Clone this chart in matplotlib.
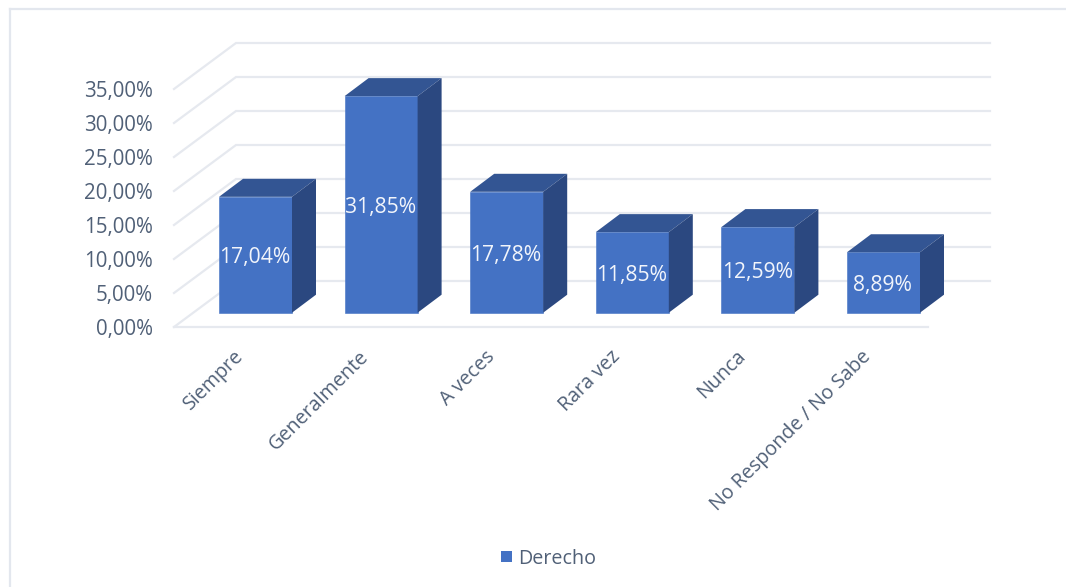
import matplotlib

matplotlib.use("Agg")
import matplotlib.pyplot as plt
from matplotlib.patches import Polygon, Rectangle

categories = ["Siempre", "Generalmente", "A veces", "Rara vez", "Nunca", "No Responde / No Sabe"]
values = [17.04, 31.85, 17.78, 11.85, 12.59, 8.89]
value_labels = ["17,04%", "31,85%", "17,78%", "11,85%", "12,59%", "8,89%"]
y_ticks = [0, 5, 10, 15, 20, 25, 30, 35]
y_tick_labels = ["0,00%", "5,00%", "10,00%", "15,00%", "20,00%", "25,00%", "30,00%", "35,00%"]
series_name = "Derecho"

W, H = 1066, 587
PX_PER_UNIT = 6.8
PX_PER_CAT = 125.6
X0_PX = 255.5
Y0_PX = 327

# 3d look: everything is offset in data units
BAR_W = 73 / PX_PER_CAT
BAR_DX, BAR_DY = 24 / PX_PER_CAT, 18 / PX_PER_UNIT
WALL_DX, WALL_DY = 62 / PX_PER_CAT, 46 / PX_PER_UNIT
FLOOR_Y = 14.3 / PX_PER_UNIT
FLOOR_LEFT = (174 - X0_PX) / PX_PER_CAT
FLOOR_RIGHT = (928 - X0_PX) / PX_PER_CAT

FRONT = "#4472c4"
TOP = "#335593"
SIDE = "#2b4880"
GRID = "#e6e9ef"
TEXT = "#506077"

plt.rcParams["font.family"] = ["Open Sans", "DejaVu Sans"]

fig = plt.figure(figsize=(W / 100, H / 100), dpi=100)
ax = fig.add_axes([0, 0, 1, 1])
ax.set_xlim(-X0_PX / PX_PER_CAT, (W - X0_PX) / PX_PER_CAT)
ax.set_ylim((Y0_PX - H) / PX_PER_UNIT, Y0_PX / PX_PER_UNIT)
for spine in ax.spines.values():
    spine.set_visible(False)

# outer frame of the pasted chart, top edge runs off the image
fig.add_artist(plt.Line2D([9.5 / W, 9.5 / W], [0, 1 - 8.5 / H], color="#e3e7ee", lw=1.6))
fig.add_artist(plt.Line2D([9.5 / W, 1], [1 - 8.5 / H, 1 - 8.5 / H], color="#e3e7ee", lw=1.6))

for tick in y_ticks:
    ax.plot(
        [FLOOR_LEFT, FLOOR_LEFT + WALL_DX, FLOOR_RIGHT + WALL_DX],
        [tick, tick + WALL_DY, tick + WALL_DY],
        color=GRID, lw=1.6, zorder=1, solid_joinstyle="miter",
    )
ax.plot([FLOOR_LEFT, FLOOR_RIGHT], [0, 0], color=GRID, lw=1.6, zorder=1)

x_pos = list(range(len(categories)))
bars = ax.bar(x_pos, values, BAR_W, bottom=FLOOR_Y, color=FRONT, edgecolor=FRONT, linewidth=0.4, zorder=3)
for bar, label in zip(bars, value_labels):
    left, right = bar.get_x(), bar.get_x() + bar.get_width()
    low, high = bar.get_y(), bar.get_y() + bar.get_height()
    ax.add_patch(Polygon(
        [(left, high), (right, high), (right + BAR_DX, high + BAR_DY), (left + BAR_DX, high + BAR_DY)],
        facecolor=TOP, zorder=3,
    ))
    ax.add_patch(Polygon(
        [(right, low), (right + BAR_DX, low + BAR_DY), (right + BAR_DX, high + BAR_DY), (right, high)],
        facecolor=SIDE, zorder=3,
    ))
    ax.annotate(label, ((left + right) / 2, (low + high) / 2), xytext=(-0.5, -2.2), textcoords="offset points",
                color="#f2f5fb", fontsize=15.2, ha="center", va="center", zorder=4)

ax.set_yticks(y_ticks)
ax.set_yticklabels(y_tick_labels)
ax.yaxis.set_tick_params(length=0, direction="in", pad=-110, labelsize=14.8, labelcolor=TEXT)
for label in ax.get_yticklabels():
    label.set_ha("right")

ax.set_xticks([])
for x, name in zip(x_pos, categories):
    ax.annotate(name, (x, 0), xytext=(-16, -14), textcoords="offset points", rotation=45,
                rotation_mode="anchor", ha="right", va="top", fontsize=14.2, color=TEXT)

ax.add_patch(Rectangle((501 / W, 1 - 562 / H), 11 / W, 11 / H, transform=fig.transFigure,
                       facecolor=FRONT, clip_on=False))
ax.text(518 / W, 1 - 558.5 / H, series_name, transform=fig.transFigure, fontsize=14.2,
        color=TEXT, va="center", ha="left")

fig.savefig("out.png", dpi=100)
